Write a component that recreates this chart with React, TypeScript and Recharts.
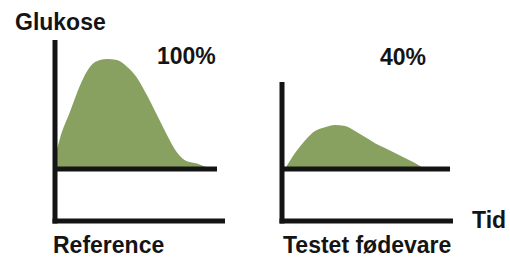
import React from 'react';
import { AreaChart, Area, XAxis, YAxis, ReferenceLine } from 'recharts';

// tid (px-ish units from the y-axis) and glucose response
const refTime = [2, 5, 15, 25, 35, 45, 52, 62, 72, 82, 92, 102, 112, 122, 132, 142, 155];
const refGlucose = [18, 28, 52, 76, 93, 99, 100, 99, 93, 83, 67, 49, 31, 15, 7, 5, 0];

const testTime = [3, 13, 23, 33, 43, 53, 63, 73, 83, 93, 103, 113, 123, 133, 143];
const testGlucose = [0, 14.5, 26, 34.5, 38, 40, 39, 34.5, 29, 23.5, 19, 14.5, 10, 5.5, 0];

const labels = {
  yAxis: 'Glukose',
  xAxis: 'Tid',
  reference: 'Reference',
  test: 'Testet fødevare',
  refPct: '100%',
  testPct: '40%',
};

const refData = refTime.map((t, i) => ({ t, glukose: refGlucose[i] }));
const testData = testTime.map((t, i) => ({ t, glukose: testGlucose[i] }));

const INK = '#141414';
const GREEN = '#88a160';
const axisLine = { stroke: INK, strokeWidth: 5, strokeLinecap: 'square' as const };
const font = { fontFamily: '"Liberation Sans", Arial, sans-serif', fontWeight: 700, fontSize: 23, fill: INK };

interface PanelProps {
  data: Array<{ t: number; glukose: number }>;
  left: number;
  width: number;
  margin: { top: number; right: number; bottom: number; left: number };
  xMax: number;
  yMax: number;
  baseEnd: number;
}

const Panel: React.FC<PanelProps> = ({ data, left, width, margin, xMax, yMax, baseEnd }) => (
  <div style={{ position: 'absolute', left, top: 0 }}>
    <AreaChart width={width} height={258} data={data} margin={margin}>
      <XAxis
        type="number"
        dataKey="t"
        domain={[0, xMax]}
        height={1}
        tick={false}
        tickLine={false}
        axisLine={axisLine}
      />
      <YAxis
        type="number"
        domain={[-47.27, yMax]}
        width={1}
        tick={false}
        tickLine={false}
        axisLine={axisLine}
      />
      <Area
        type="monotone"
        dataKey="glukose"
        stroke="none"
        fill={GREEN}
        fillOpacity={1}
        isAnimationActive={false}
      />
      <ReferenceLine
        segment={[{ x: 0, y: 0 }, { x: baseEnd, y: 0 }]}
        stroke={INK}
        strokeWidth={5}
      />
    </AreaChart>
  </div>
);

const App: React.FC = () => {
  return (
    <div style={{ position: 'absolute', left: 0, top: 0, width: 510, height: 258, background: '#fff' }}>
      <Panel
        data={refData}
        left={0}
        width={230}
        margin={{ top: 42.5, left: 54, right: 7.5, bottom: 36 }}
        xMax={167.5}
        yMax={115}
        baseEnd={162}
      />
      <Panel
        data={testData}
        left={240}
        width={270}
        margin={{ top: 84.5, left: 41, right: 59.5, bottom: 36 }}
        xMax={168.5}
        yMax={76.8}
        baseEnd={168}
      />
      <svg width={510} height={258} style={{ position: 'absolute', left: 0, top: 0, pointerEvents: 'none' }}>
        <text x={15} y={30} {...font}>{labels.yAxis}</text>
        <text x={157} y={64} {...font}>{labels.refPct}</text>
        <text x={380} y={65} {...font}>{labels.testPct}</text>
        <text x={472} y={228} {...font}>{labels.xAxis}</text>
        <text x={53} y={253} {...font}>{labels.reference}</text>
        <text x={283} y={253} {...font}>{labels.test}</text>
      </svg>
    </div>
  );
};

export default App;
